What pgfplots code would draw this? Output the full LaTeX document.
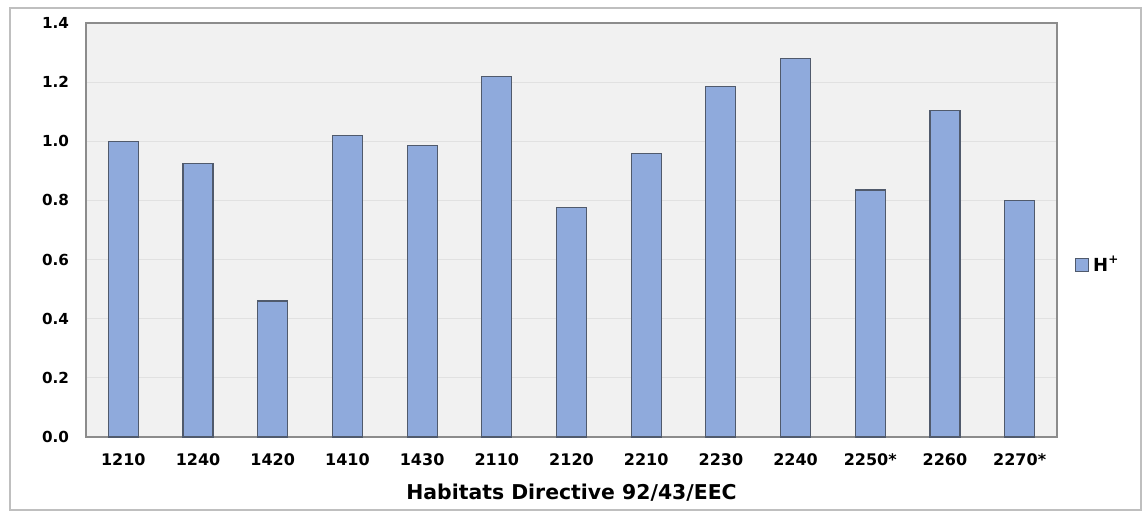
\documentclass[border=0pt]{standalone}
\usepackage{pgfplots}
\pgfplotsset{compat=1.18}
\usepackage{fontspec}
\setmainfont{DejaVu Sans}
\definecolor{barfill}{RGB}{143,170,220}
\definecolor{bardraw}{RGB}{80,90,108}
\definecolor{bgfill}{RGB}{241,241,241}
\definecolor{gridc}{RGB}{225,225,225}
\definecolor{framec}{RGB}{140,140,140}
\begin{document}
\begin{tikzpicture}
\useasboundingbox (-43pt,-37pt) rectangle (528pt,218.5pt);
\draw[gray!50, line width=0.6pt] (-38pt,-36.5pt) rectangle (527.5pt,214.5pt);
\begin{axis}[
  at={(0,0)}, anchor=south west,
  scale only axis,
  width=485.5pt, height=207pt,
  xmin=-0.5, xmax=12.5,
  ymin=0, ymax=1.4,
  ytick={0,0.2,...,1.4},
  xtick={0,...,12},
  xticklabels={1210,1240,1420,1410,1430,2110,2120,2210,2230,2240,2250*,2260,2270*},
  /pgf/number format/assume math mode=true,
  yticklabel style={/pgf/number format/fixed, /pgf/number format/fixed zerofill, /pgf/number format/precision=1, font=\bfseries\fontsize{7.6}{9}\selectfont, xshift=-5pt},
  xticklabel style={font=\bfseries\fontsize{8}{10}\selectfont, yshift=-5pt},
  major tick length=0pt,
  axis line style={framec, line width=0.6pt},
  axis background/.style={fill=bgfill},
  ymajorgrids, grid style={gridc, line width=0.5pt},
  xlabel={Habitats Directive 92/43/EEC},
  xlabel style={font=\bfseries\fontsize{10.2}{12}\selectfont, yshift=-2pt},
  ybar, bar width=15pt,
  legend style={at={(rel axis cs:1.012,0.415)}, anchor=west, draw=none, fill=none, font=\bfseries\fontsize{9}{10}\selectfont},
  legend image code/.code={\draw[#1, line width=0.6pt] (0pt,-3pt) rectangle (6.5pt,3.5pt);},
]
\addplot[fill=barfill, draw=bardraw, line width=0.6pt] coordinates {
 (0,1.00) (1,0.925) (2,0.46) (3,1.02) (4,0.985) (5,1.22) (6,0.775)
 (7,0.96) (8,1.185) (9,1.28) (10,0.835) (11,1.105) (12,0.80)
};
\addlegendentry{H\textsuperscript{+}}
\end{axis}
\end{tikzpicture}
\end{document}
